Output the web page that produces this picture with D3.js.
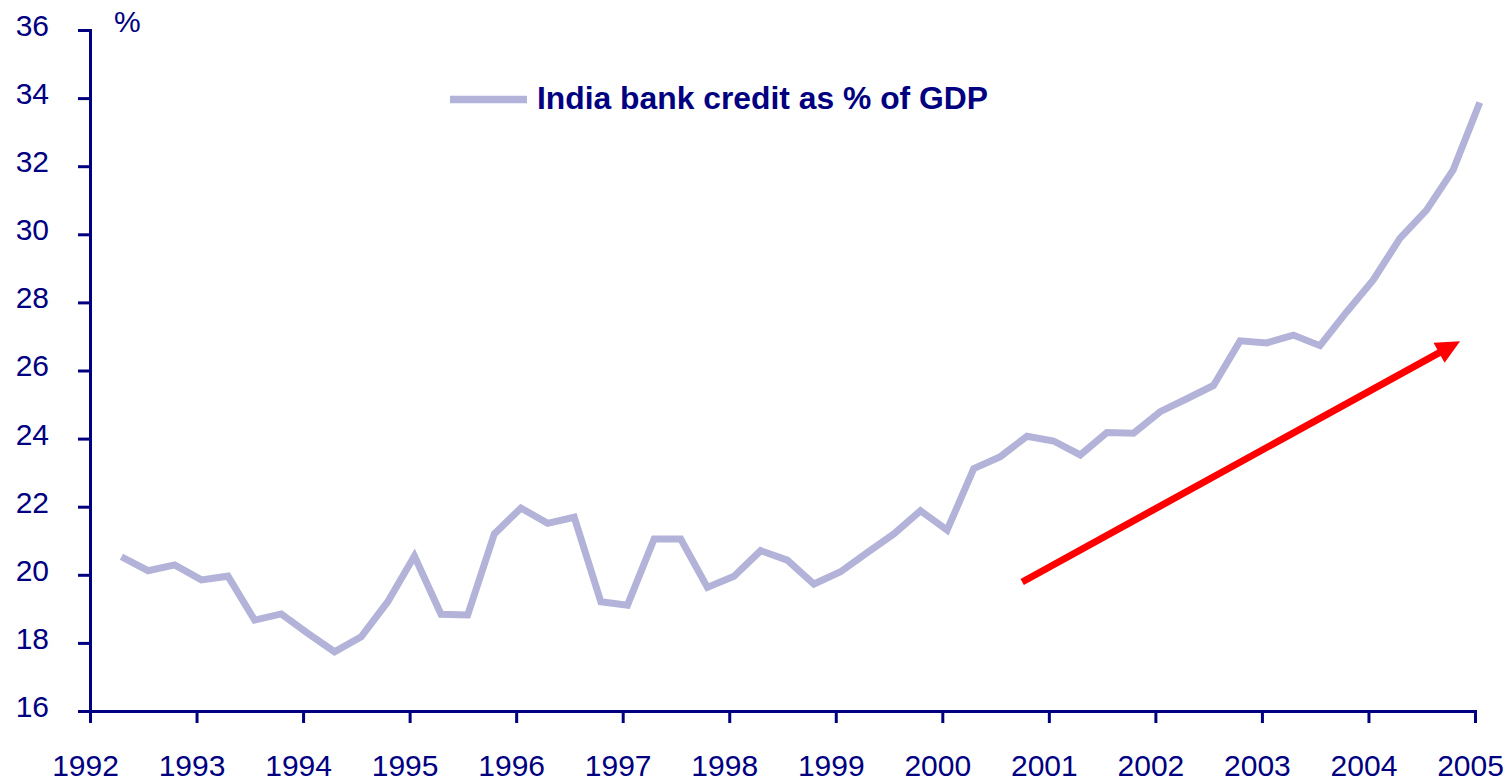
<!DOCTYPE html>
<html>
<head>
<meta charset="utf-8">
<script src="https://cdn.jsdelivr.net/npm/d3@7"></script>
<style>
  body { margin: 0; background: #fff; }
  text { font-family: "Liberation Sans", Arial, sans-serif; }
</style>
</head>
<body>
<script>
// India bank credit as % of GDP, quarterly 1992Q2 - 2005Q1
const quarters = [
  "1992Q2","1992Q3","1992Q4",
  "1993Q1","1993Q2","1993Q3","1993Q4",
  "1994Q1","1994Q2","1994Q3","1994Q4",
  "1995Q1","1995Q2","1995Q3","1995Q4",
  "1996Q1","1996Q2","1996Q3","1996Q4",
  "1997Q1","1997Q2","1997Q3","1997Q4",
  "1998Q1","1998Q2","1998Q3","1998Q4",
  "1999Q1","1999Q2","1999Q3","1999Q4",
  "2000Q1","2000Q2","2000Q3","2000Q4",
  "2001Q1","2001Q2","2001Q3","2001Q4",
  "2002Q1","2002Q2","2002Q3","2002Q4",
  "2003Q1","2003Q2","2003Q3","2003Q4",
  "2004Q1","2004Q2","2004Q3","2004Q4",
  "2005Q1"
];
const creditPct = [
  20.53, 20.12, 20.29,
  19.85, 19.96, 18.67, 18.85,
  18.28, 17.74, 18.18, 19.21,
  20.55, 18.84, 18.82, 21.20,
  21.96, 21.51, 21.69, 19.21,
  19.11, 21.05, 21.05, 19.63,
  19.96, 20.71, 20.43, 19.73,
  20.09, 20.65, 21.20, 21.88,
  21.31, 23.12, 23.47, 24.07,
  23.93, 23.52, 24.18, 24.16,
  24.79, 25.17, 25.56, 26.87,
  26.81, 27.04, 26.73, 27.72,
  28.66, 29.88, 30.71, 31.89,
  33.87
];
const yearTicks = [1992,1993,1994,1995,1996,1997,1998,1999,2000,2001,2002,2003,2004,2005];
const pctTicks = [16,18,20,22,24,26,28,30,32,34,36];
const seriesName = "India bank credit as % of GDP";
// trend arrow annotation, in data units [year, %]
const trendArrow = [[2000.75, 19.79], [2004.86, 26.86]];

const navy = "#000080", lineCol = "#B3B3D9";
const width = 1506, height = 784;

const svg = d3.select("body").append("svg")
    .attr("width", width)
    .attr("height", height);

const x = d3.scaleLinear().domain([1992, 2005]).range([90, 1475]);
const y = d3.scaleLinear().domain([16, 36]).range([711, 30]);

// quarter label -> decimal year position
const qPos = q => +q.slice(0, 4) + (+q.slice(5) - 1) / 4 + 0.045;

// x axis
const xAxis = svg.append("g")
    .attr("transform", `translate(0,${y(16)})`)
    .call(d3.axisBottom(x).tickValues(yearTicks).tickFormat(d3.format("d"))
        .tickSize(12).tickSizeOuter(0).tickPadding(32));

// y axis
const yAxis = svg.append("g")
    .attr("transform", `translate(${x(1992)},0)`)
    .call(d3.axisLeft(y).tickValues(pctTicks)
        .tickSize(12).tickSizeOuter(0).tickPadding(29));

[xAxis, yAxis].forEach(g => {
    g.select(".domain").attr("stroke", navy).attr("stroke-width", 3).attr("stroke-linecap", "square");
    g.selectAll(".tick line").attr("stroke", navy).attr("stroke-width", 3);
    g.selectAll(".tick text").attr("fill", navy).attr("font-size", 30)
        .attr("font-family", "'Liberation Sans', Arial, sans-serif");
});
xAxis.selectAll(".tick text").attr("dx", -5);
yAxis.selectAll(".tick text").attr("dy", "0.18em");

// unit label
svg.append("text")
    .attr("x", 114).attr("y", 32)
    .attr("font-size", 30).attr("fill", navy)
    .text("%");

// data line
const line = d3.line()
    .x((d, i) => x(qPos(quarters[i])))
    .y(d => y(d));

svg.append("path")
    .datum(creditPct)
    .attr("d", line)
    .attr("fill", "none")
    .attr("stroke", lineCol)
    .attr("stroke-width", 7)
    .attr("stroke-linejoin", "miter")
    .attr("stroke-linecap", "butt");

// legend
svg.append("line")
    .attr("x1", 450).attr("x2", 527)
    .attr("y1", 99.5).attr("y2", 99.5)
    .attr("stroke", lineCol).attr("stroke-width", 7.5);
svg.append("text")
    .attr("x", 537).attr("y", 109)
    .attr("font-size", 32).attr("font-weight", "bold")
    .attr("fill", navy)
    .attr("textLength", 451).attr("lengthAdjust", "spacingAndGlyphs")
    .text(seriesName);

// red trend arrow
const [p0, p1] = trendArrow.map(d => [x(d[0]), y(d[1])]);
const ang = Math.atan2(p1[1] - p0[1], p1[0] - p0[0]);
const headLen = 24, headHalf = 11.5;
const ux = Math.cos(ang), uy = Math.sin(ang);
const base = [p1[0] - ux * headLen, p1[1] - uy * headLen];

svg.append("line")
    .attr("x1", p0[0]).attr("y1", p0[1])
    .attr("x2", base[0] + ux * 2).attr("y2", base[1] + uy * 2)
    .attr("stroke", "#FF0000").attr("stroke-width", 7);
svg.append("polygon")
    .attr("points", [
        p1,
        [base[0] - uy * headHalf, base[1] + ux * headHalf],
        [base[0] + uy * headHalf, base[1] - ux * headHalf]
    ].map(p => p.join(",")).join(" "))
    .attr("fill", "#FF0000");
</script>
</body>
</html>
